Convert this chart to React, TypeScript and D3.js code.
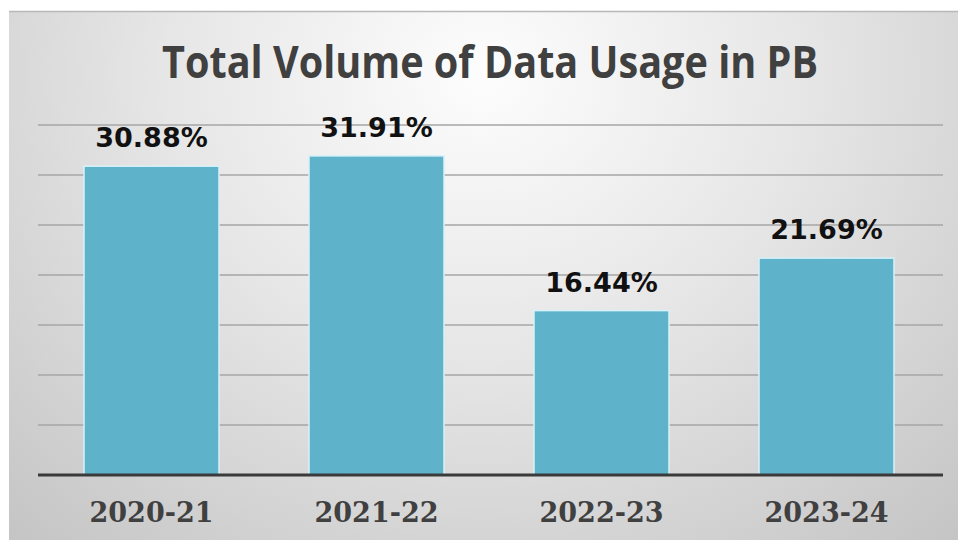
import React from "react";
import * as d3 from "d3";

const categories = ["2020-21", "2021-22", "2022-23", "2023-24"];
const values = [30.88, 31.91, 16.44, 21.69];
const valueLabels = ["30.88%", "31.91%", "16.44%", "21.69%"];
const gridTicks = [5, 10, 15, 20, 25, 30, 35];
const title = "Total Volume of Data Usage in PB";

export default function App() {
  const W = 958, H = 540;
  const x = d3.scaleBand<string>().domain(categories).range([39, 939]).paddingInner(0.4).paddingOuter(0.2);
  const y = d3.scaleLinear().domain([0, 35]).range([475, 125]);
  return (
    <svg width={W} height={H} style={{ position: "absolute", left: 0, top: 0, background: "#fff" }}>
      <defs>
        <radialGradient id="bg" cx="0.5" cy="0.12" r="0.75" gradientTransform="translate(0.5,0.12) scale(1,1.6) translate(-0.5,-0.12)">
          <stop offset="0" stopColor="#fdfdfd" />
          <stop offset="0.45" stopColor="#e6e6e6" />
          <stop offset="1" stopColor="#c4c4c4" />
        </radialGradient>
      </defs>
      <rect x={9} y={11} width={W - 9} height={H - 11} fill="url(#bg)" />
      <line x1={9} x2={W} y1={11.5} y2={11.5} stroke="#b8b8b8" strokeWidth={1.5} />
      {gridTicks.map((t) => (
        <line key={t} x1={38} x2={943} y1={y(t)} y2={y(t)} stroke="#a6a6a6" strokeWidth={1.5} />
      ))}
      {categories.map((c, i) => (
        <rect key={c} x={x(c)} y={y(values[i])} width={x.bandwidth()} height={y(0) - y(values[i])}
          fill="#5eb3cb" stroke="#d8f2f8" strokeWidth={1.5} />
      ))}
      <line x1={38} x2={943} y1={y(0)} y2={y(0)} stroke="#3a3a3a" strokeWidth={3} />
      {categories.map((c, i) => (
        <text key={"v" + c} x={(x(c) as number) + x.bandwidth() / 2} y={y(values[i]) - 19}
          textAnchor="middle" fontFamily="DejaVu Sans" fontWeight="bold" fontSize={27} fill="#111">
          {valueLabels[i]}
        </text>
      ))}
      {categories.map((c) => (
        <text key={"c" + c} x={(x(c) as number) + x.bandwidth() / 2} y={522}
          textAnchor="middle" fontFamily="DejaVu Serif" fontWeight="bold" fontSize={27} fill="#404040">
          {c}
        </text>
      ))}
      <text x={490} y={78} textAnchor="middle" fontFamily="Open Sans" fontWeight={700} fontSize={45}
        fill="#404040" textLength={656} lengthAdjust="spacingAndGlyphs">
        {title}
      </text>
    </svg>
  );
}
